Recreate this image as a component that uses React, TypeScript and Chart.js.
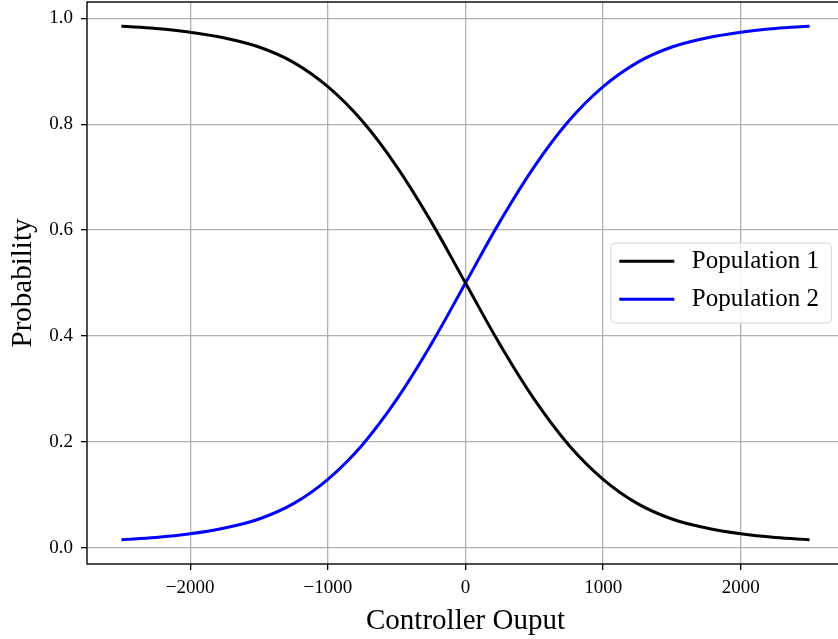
import { useEffect, useRef } from "react";
import { Chart, registerables } from "chart.js";

Chart.register(...registerables);

// Controller output samples and the probability of each population
const controllerOutput = [
  -2500, -2250, -2000, -1750, -1500, -1250, -1000, -750, -500, -250, 0,
  250, 500, 750, 1000, 1250, 1500, 1750, 2000, 2250, 2500,
];
const population1 = [
  0.985, 0.981, 0.974, 0.963, 0.946, 0.917, 0.871, 0.806, 0.72, 0.616, 0.5,
  0.384, 0.28, 0.194, 0.129, 0.083, 0.054, 0.037, 0.026, 0.019, 0.015,
];
const population2 = [
  0.015, 0.019, 0.026, 0.037, 0.054, 0.083, 0.129, 0.194, 0.28, 0.384, 0.5,
  0.616, 0.72, 0.806, 0.871, 0.917, 0.946, 0.963, 0.974, 0.981, 0.985,
];

const seriesLabels = ["Population 1", "Population 2"];
const seriesColors = ["#000000", "#0000ff"];

const xTickValues = [-2000, -1000, 0, 1000, 2000];
const yTickValues = [0, 0.2, 0.4, 0.6, 0.8, 1.0];
const xLimits = [-2750, 2750];
const yLimits = [-0.031, 1.031];

const xTitle = "Controller Ouput";
const yTitle = "Probability";

const SERIF = "'Liberation Serif', 'Times New Roman', Times, serif";

// Black box around the plotting area, drawn above the curves
const framePlugin = {
  id: "frame",
  afterDatasetsDraw(chart: any) {
    const { ctx, chartArea } = chart;
    ctx.save();
    ctx.strokeStyle = "#000000";
    ctx.lineWidth = 1.4;
    ctx.strokeRect(
      chartArea.left,
      chartArea.top,
      chartArea.right - chartArea.left,
      chartArea.bottom - chartArea.top
    );
    ctx.restore();
  },
};

// Legend box placed at the centre right of the plotting area
const legendPlugin = {
  id: "centerRightLegend",
  afterDraw(chart: any) {
    const { ctx, chartArea } = chart;
    const datasets = chart.data.datasets;
    const fontSize = 25;
    const padLeft = 8.5;
    const handleLen = 55;
    const handleGap = 17.5;
    const padRight = 12.5;
    const height = 80;
    const radius = 4;

    ctx.save();
    ctx.font = `${fontSize}px ${SERIF}`;
    let textW = 0;
    for (const ds of datasets) {
      textW = Math.max(textW, ctx.measureText(ds.label).width);
    }
    const width = padLeft + handleLen + handleGap + textW + padRight;
    const right = chartArea.right - 12.6;
    const left = right - width;
    const top = (chartArea.top + chartArea.bottom) / 2 - height / 2;
    const bottom = top + height;

    ctx.beginPath();
    ctx.moveTo(left + radius, top);
    ctx.lineTo(right - radius, top);
    ctx.arcTo(right, top, right, top + radius, radius);
    ctx.lineTo(right, bottom - radius);
    ctx.arcTo(right, bottom, right - radius, bottom, radius);
    ctx.lineTo(left + radius, bottom);
    ctx.arcTo(left, bottom, left, bottom - radius, radius);
    ctx.lineTo(left, top + radius);
    ctx.arcTo(left, top, left + radius, top, radius);
    ctx.closePath();
    ctx.fillStyle = "rgba(255,255,255,0.8)";
    ctx.fill();
    ctx.strokeStyle = "#d6d6d6";
    ctx.lineWidth = 1;
    ctx.stroke();

    datasets.forEach((ds: any, i: number) => {
      const y = top + 18.3 + i * 38;
      ctx.beginPath();
      ctx.strokeStyle = ds.borderColor;
      ctx.lineWidth = 3;
      ctx.moveTo(left + padLeft, y);
      ctx.lineTo(left + padLeft + handleLen, y);
      ctx.stroke();
      ctx.fillStyle = "#000000";
      ctx.textAlign = "left";
      ctx.textBaseline = "middle";
      ctx.fillText(ds.label, left + padLeft + handleLen + handleGap, y);
    });
    ctx.restore();
  },
};

export default function App() {
  const canvasRef = useRef<HTMLCanvasElement | null>(null);

  useEffect(() => {
    const canvas = canvasRef.current;
    if (!canvas) return;

    const seriesValues = [population1, population2];
    const chart = new Chart(canvas, {
      type: "line",
      data: {
        datasets: seriesValues.map((values, s) => ({
          label: seriesLabels[s],
          data: controllerOutput.map((x, i) => ({ x, y: values[i] })),
          borderColor: seriesColors[s],
          backgroundColor: seriesColors[s],
          borderWidth: 3,
          pointRadius: 0,
          fill: false,
          tension: 0.4,
        })),
      },
      options: {
        responsive: false,
        animation: false,
        devicePixelRatio: 1,
        events: [],
        layout: { padding: { top: 2, left: 0, right: 0, bottom: 0 } },
        plugins: {
          legend: { display: false },
          tooltip: { enabled: false },
        },
        scales: {
          x: {
            type: "linear",
            min: xLimits[0],
            max: xLimits[1],
            afterBuildTicks(axis: any) {
              axis.ticks = xTickValues.map((value) => ({ value }));
            },
            afterFit(axis: any) {
              axis.height = 75;
              axis.paddingLeft = 0;
              axis.paddingRight = 0;
            },
            border: { display: false },
            grid: {
              color: "#b0b0b0",
              lineWidth: 1.3,
              drawTicks: true,
              tickLength: 6,
              tickColor: "#000000",
              tickWidth: 1.3,
            },
            ticks: {
              color: "#000000",
              padding: 7,
              maxRotation: 0,
              autoSkip: false,
              font: { family: SERIF, size: 19 },
              callback: (v: any) =>
                Number(v) < 0 ? "\u2212" + Math.abs(Number(v)) : String(v),
            },
            title: {
              display: true,
              text: xTitle,
              color: "#000000",
              font: { family: SERIF, size: 29 },
              padding: { top: 4, bottom: 0 },
            },
          },
          y: {
            type: "linear",
            min: yLimits[0],
            max: yLimits[1],
            afterBuildTicks(axis: any) {
              axis.ticks = yTickValues.map((value) => ({ value }));
            },
            afterFit(axis: any) {
              axis.width = 87;
              axis.paddingTop = 0;
              axis.paddingBottom = 0;
            },
            border: { display: false },
            grid: {
              color: "#b0b0b0",
              lineWidth: 1.3,
              drawTicks: true,
              tickLength: 6,
              tickColor: "#000000",
              tickWidth: 1.3,
            },
            ticks: {
              color: "#000000",
              padding: 8,
              autoSkip: false,
              font: { family: SERIF, size: 19 },
              callback: (v: any) => Number(v).toFixed(1),
            },
            title: {
              display: true,
              text: yTitle,
              color: "#000000",
              font: { family: SERIF, size: 29 },
              padding: { top: 6, bottom: 0 },
            },
          },
        },
      },
      plugins: [framePlugin, legendPlugin],
    });

    return () => chart.destroy();
  }, []);

  return (
    <div
      style={{
        position: "fixed",
        left: 0,
        top: 0,
        width: 838,
        height: 639,
        overflow: "hidden",
        background: "#ffffff",
      }}
    >
      <canvas
        ref={canvasRef}
        width={844}
        height={639}
        style={{ display: "block", width: 844, height: 639 }}
      />
    </div>
  );
}
